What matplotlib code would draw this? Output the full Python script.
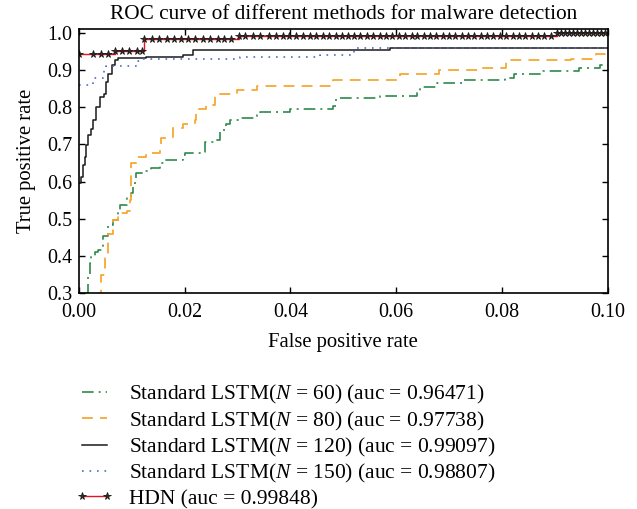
import numpy as np
import matplotlib
matplotlib.use('Agg')
import matplotlib.pyplot as plt

plt.rcParams['font.family'] = ['Liberation Serif', 'DejaVu Serif']
plt.rcParams['mathtext.fontset'] = 'custom'
plt.rcParams['mathtext.rm'] = 'Liberation Serif'
plt.rcParams['mathtext.it'] = 'Liberation Serif:italic'

# ROC points (fpr, tpr), drawn as steps
fpr_60 = [0.0, 0.0014, 0.0017, 0.0021, 0.0023, 0.0030, 0.0036, 0.0045, 0.0055, 0.0064,
          0.0074, 0.0077, 0.0090, 0.0099, 0.0102, 0.0107, 0.0121, 0.0137, 0.0153, 0.0162,
          0.0197, 0.0200, 0.0232, 0.0238, 0.0260, 0.0266, 0.0279, 0.0285, 0.0304, 0.0336,
          0.0342, 0.0399, 0.0481, 0.0487, 0.0570, 0.0639, 0.0645, 0.0677, 0.0727, 0.0806,
          0.0822, 0.0878, 0.0945, 0.0964, 0.0986, 1.0]
tpr_60 = [0.0, 0.300, 0.346, 0.381, 0.400, 0.412, 0.417, 0.453, 0.484, 0.497,
          0.524, 0.537, 0.555, 0.569, 0.596, 0.622, 0.629, 0.636, 0.649, 0.658,
          0.671, 0.676, 0.680, 0.707, 0.711, 0.738, 0.756, 0.765, 0.770, 0.779,
          0.787, 0.796, 0.803, 0.825, 0.829, 0.841, 0.854, 0.866, 0.874, 0.877,
          0.888, 0.897, 0.905, 0.905, 0.914, 1.0]

fpr_80 = [0.0, 0.0039, 0.0042, 0.0049, 0.0055, 0.0064, 0.0074, 0.0090, 0.0096, 0.0098,
          0.0109, 0.0127, 0.0153, 0.0156, 0.0172, 0.0178, 0.0197, 0.0219, 0.0222, 0.0241,
          0.0257, 0.0266, 0.0298, 0.0336, 0.0480, 0.0608, 0.0680, 0.0759, 0.0808, 0.0930,
          0.0977, 1.0]
tpr_80 = [0.0, 0.300, 0.350, 0.400, 0.460, 0.497, 0.515, 0.520, 0.551, 0.649,
          0.667, 0.676, 0.685, 0.716, 0.720, 0.743, 0.756, 0.765, 0.796, 0.805,
          0.829, 0.835, 0.845, 0.856, 0.874, 0.890, 0.901, 0.905, 0.926, 0.930,
          0.942, 1.0]

fpr_120 = [0.0, 0.0004, 0.0008, 0.0011, 0.0013, 0.0017, 0.0023, 0.0026, 0.0033, 0.0039,
           0.0048, 0.0051, 0.0055, 0.0062, 0.0068, 0.0074, 0.0126, 0.0197, 0.0216, 0.0589,
           1.0]
tpr_120 = [0.595, 0.613, 0.645, 0.666, 0.698, 0.725, 0.740, 0.765, 0.800, 0.828,
           0.835, 0.868, 0.890, 0.912, 0.928, 0.933, 0.936, 0.939, 0.9525, 0.959,
           1.0]

fpr_150 = [0.0, 0.0027, 0.0048, 0.0051, 0.0112, 0.0120, 0.0305, 0.0455, 0.0520, 1.0]
tpr_150 = [0.859, 0.877, 0.904, 0.911, 0.924, 0.930, 0.935, 0.939, 0.959, 1.0]

fpr_hdn = [0.0, 0.0027, 0.0042, 0.0054,
           0.0068, 0.0081, 0.0095, 0.0109, 0.0120,
           0.0123, 0.0138, 0.0152, 0.0166, 0.0180, 0.0193, 0.0207, 0.0220, 0.0234, 0.0248,
           0.0262, 0.0275, 0.0288,
           0.0302, 0.0314, 0.0330, 0.0343, 0.0359, 0.0372, 0.0385, 0.0398, 0.0410, 0.0423,
           0.0436, 0.0448, 0.0461, 0.0473, 0.0486, 0.0497, 0.0509, 0.0520, 0.0532, 0.0545,
           0.0557, 0.0569, 0.0580, 0.0592, 0.0605, 0.0617, 0.0629, 0.0640, 0.0652, 0.0664,
           0.0676, 0.0688, 0.0700, 0.0712, 0.0724, 0.0736, 0.0748, 0.0760, 0.0772, 0.0784,
           0.0796, 0.0808, 0.0820, 0.0832, 0.0844, 0.0856, 0.0868, 0.0880, 0.0892,
           0.0905, 0.0912, 0.0920, 0.0927, 0.0935, 0.0942, 0.0950, 0.0957, 0.0965, 0.0972,
           0.0980, 0.0987, 0.0995, 1.0]
tpr_hdn = ([0.944] * 4 + [0.951] * 5 + [0.982] * 13 + [0.990] * 49 + [1.0] * 14)

labels = ['Standard LSTM($N$ = 60) (auc = 0.96471)',
          'Standard LSTM($N$ = 80) (auc = 0.97738)',
          'Standard LSTM($N$ = 120) (auc = 0.99097)',
          'Standard LSTM($N$ = 150) (auc = 0.98807)',
          'HDN (auc = 0.99848)']

fig = plt.figure(figsize=(6.37, 5.09), dpi=100)
ax = fig.add_axes([0.124, 0.424, 0.830, 0.519])

ax.plot(fpr_60, tpr_60, drawstyle='steps-post', color='#2f8a4c', lw=1.2,
        linestyle=(0, (7, 3, 1.2, 3)), label=labels[0])
ax.plot(fpr_80, tpr_80, drawstyle='steps-post', color='#f7a833', lw=1.3,
        linestyle=(0, (6, 4)), label=labels[1])
ax.plot(fpr_120, tpr_120, drawstyle='steps-post', color='#1a1a1a', lw=1.1,
        label=labels[2])
ax.plot(fpr_150, tpr_150, drawstyle='steps-post', color='#5468c4', lw=1.2,
        linestyle=(0, (1, 3.5)), label=labels[3])
ax.plot(fpr_hdn, tpr_hdn, drawstyle='steps-post', color='#e3141e', lw=1.0,
        marker='*', ms=5.5, mfc='#3a2a2a', mec='#1a1a1a', mew=0.6, label=labels[4])

ax.set_xlim(0, 0.1)
ax.set_ylim(0.3, 1.01)
ax.set_xticks([0.0, 0.02, 0.04, 0.06, 0.08, 0.10])
ax.set_xticklabels(['0.00', '0.02', '0.04', '0.06', '0.08', '0.10'])
ax.set_yticks([0.3, 0.4, 0.5, 0.6, 0.7, 0.8, 0.9, 1.0])
ax.tick_params(direction='in', top=True, right=True, labelsize=14.4, length=4, width=1)
ax.tick_params(axis='x', pad=7)
ax.tick_params(axis='y', pad=5)
for s in ax.spines.values():
    s.set_linewidth(1.2)

ax.set_title('ROC curve of different methods for malware detection', fontsize=15.3, pad=7)
ax.set_xlabel('False positive rate', fontsize=14.9, labelpad=8)
ax.set_ylabel('True positive rate', fontsize=14.9, labelpad=8)

fig.legend(loc='upper left', bbox_to_anchor=(0.118, 0.2475), frameon=False,
           fontsize=15.5, handlelength=1.8, handletextpad=0.72, labelspacing=0.16,
           borderpad=0, borderaxespad=0, numpoints=2)

fig.savefig('out.png', dpi=100)
